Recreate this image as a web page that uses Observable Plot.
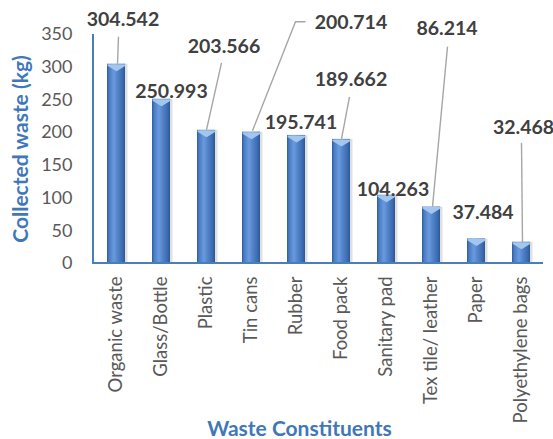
<!DOCTYPE html>
<html>
<head>
<meta charset="utf-8">
<script src="https://cdn.jsdelivr.net/npm/d3@7"></script>
<script src="https://cdn.jsdelivr.net/npm/@observablehq/plot@0.6"></script>
<style>
  html, body { margin: 0; padding: 0; background: #fff; }
  #chart svg { display: block; }
</style>
</head>
<body>
<div id="chart"></div>
<script>
const categories = ["Organic waste", "Glass/Bottle", "Plastic", "Tin cans", "Rubber", "Food pack", "Sanitary pad", "Tex tile/ leather", "Paper", "Polyethylene bags"];
const values = [304.542, 250.993, 203.566, 200.714, 195.741, 189.662, 104.263, 86.214, 37.484, 32.468];
const yTicks = [0, 50, 100, 150, 200, 250, 300, 350];
const yTitle = "Collected waste (kg)";
const xTitle = "Waste Constituents";

// label placement (pixel offsets from each bar top) and leader lines
const labelOffsets = [[6.5,-44],[10,-8],[17.5,-84],[99.5,-109],[4.5,-13],[9.5,-60],[6.5,-6],[15.5,-178],[6.5,-26],[2,-115]];
const leaderPaths = [
  [0, [[2.5,-27],[1.5,0]]],
  [2, [[15.5,-67],[0.5,0]]],
  [3, [[54.5,-110],[44.5,-110],[1.5,-1]]],
  [5, [[8.5,-42],[0.5,0]]],
  [7, [[16.5,-160],[1.5,0]]],
  [9, [[0.5,-99],[1.5,1]]]
];

const FONT = "Lato, 'Open Sans', sans-serif";
const fmt = d3.format(".3f");
const idx = d3.range(categories.length);
const data = idx.map(i => ({cat: categories[i], value: values[i]}));

const capSymbol = {
  draw(ctx) {
    ctx.moveTo(-9, 0); ctx.lineTo(9, 0); ctx.lineTo(9, 1.5); ctx.lineTo(0, 7); ctx.lineTo(-9, 1.5); ctx.closePath();
  }
};

function leaders(index, scales) {
  const x = scales.x, y = scales.y;
  const bw = x.bandwidth ? x.bandwidth() : 0;
  const g = d3.create("svg:g").attr("fill", "none").attr("stroke", "#a6a6a6").attr("stroke-width", 1.4);
  for (const [i, pts] of leaderPaths) {
    const bx = x(categories[i]) + bw / 2, by = y(values[i]);
    g.append("path").attr("d", "M" + pts.map(([dx, dy]) => [bx + dx, by + dy].join(",")).join("L"));
  }
  return g.node();
}

function axisLines(index, scales, values_, dims) {
  const y = scales.y;
  const left = dims.marginLeft, right = dims.width - dims.marginRight;
  const g = d3.create("svg:g").attr("fill", "none").attr("stroke", "#4a7ebb").attr("stroke-width", 2);
  g.append("path").attr("d", `M${left},${y(350)}V${y(0)}H${right}`);
  return g.node();
}

const plot = Plot.plot({
  width: 553,
  height: 439,
  marginLeft: 93,
  marginRight: 10,
  marginTop: 34,
  marginBottom: 176,
  style: {fontFamily: FONT, background: "#fff", overflow: "visible"},
  x: {domain: categories, paddingInner: 0.6, paddingOuter: 0.3, label: null},
  y: {domain: [0, 350], label: null},
  marks: [
    Plot.barY(data, {x: "cat", y: "value", fill: "#000", fillOpacity: 0.12, dx: 2.5}),
    Plot.barY(data, {x: "cat", y: "value", fill: "url(#barGrad)"}),
    Plot.dot(data, {x: "cat", y: "value", symbol: capSymbol, fill: "#a3c6ee", stroke: "none", r: 5}),
    Plot.axisY({ticks: yTicks, tickSize: 0, tickPadding: 21, fontSize: 18, fill: "#595959", tickFormat: d => d}),
    Plot.axisX({tickSize: 0, tickPadding: 13, tickRotate: -90, fontSize: 18.5, fill: "#595959"}),
    axisLines,
    leaders,
    ...idx.map(i => Plot.text([i], {
      x: d => categories[d], y: d => values[d], text: d => fmt(values[d]),
      dx: labelOffsets[i][0], dy: labelOffsets[i][1],
      fontSize: 19.5, fontWeight: "bold", fill: "#404040", lineAnchor: "middle"
    })),
    Plot.text([yTitle], {frameAnchor: "left", textAnchor: "middle", dx: -72, rotate: -90, fontSize: 21, fontWeight: "bold", fill: "#3f78ba"}),
    Plot.text([xTitle], {frameAnchor: "bottom", textAnchor: "middle", dx: -19, dy: 172, fontSize: 21, fontWeight: "bold", fill: "#3f78ba"})
  ]
});

const defs = d3.select(plot).insert("defs", ":first-child");
const grad = defs.append("linearGradient").attr("id", "barGrad").attr("x1", 0).attr("x2", 1).attr("y1", 0).attr("y2", 0);
[[0, "#2e5c9c"], [0.12, "#4a7cc2"], [0.38, "#6a9ade"], [0.6, "#5283c9"], [0.88, "#3a69ad"], [1, "#2b568f"]]
  .forEach(([o, c]) => grad.append("stop").attr("offset", o).attr("stop-color", c));

document.getElementById("chart").append(plot);
</script>
</body>
</html>
